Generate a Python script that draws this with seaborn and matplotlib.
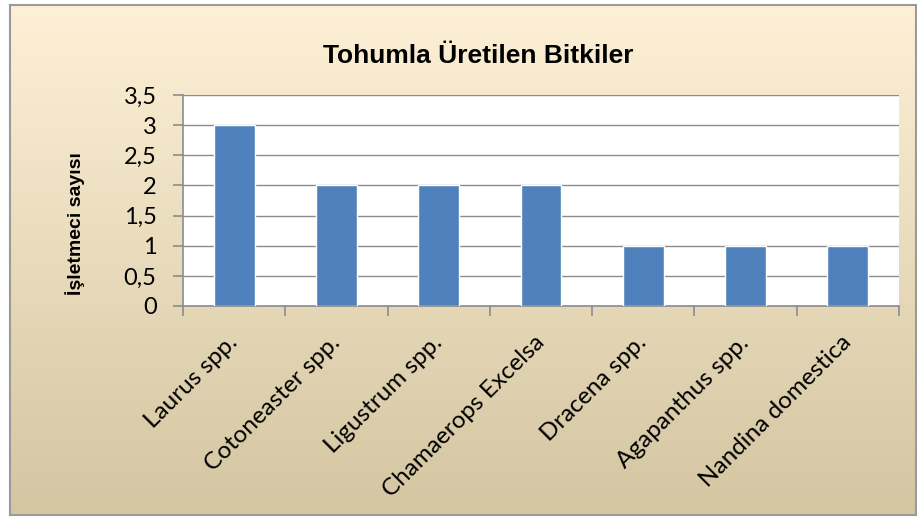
import numpy as np
import pandas as pd
import matplotlib
matplotlib.use("Agg")
import matplotlib.pyplot as plt
from matplotlib.ticker import FuncFormatter, FixedLocator
import matplotlib.transforms as mtransforms
import seaborn as sns

# ==========================================
# DATA
# ==========================================
TITLE = "Tohumla Üretilen Bitkiler"
Y_LABEL = "İşletmeci sayısı"
plants = [
    "Laurus spp.",
    "Cotoneaster spp.",
    "Ligustrum spp.",
    "Chamaerops Excelsa",
    "Dracena spp.",
    "Agapanthus spp.",
    "Nandina domestica",
]
counts = [3, 2, 2, 2, 1, 1, 1]

BAR_COLOR = "#4F81BD"
GRID_COLOR = "#8C8C8C"
BG_TOP = "#FDF0D6"
BG_BOTTOM = "#D4C6A1"

sns.set_theme(style="white")
plt.rcParams["font.family"] = ["Lato", "DejaVu Sans"]
plt.rcParams["text.color"] = "black"

W, H = 917, 517
fig = plt.figure(figsize=(W / 100, H / 100), dpi=100)
fig.patch.set_facecolor("white")

# ── gradient chart area with border ──────────────────────────────────────────
bx0, by0, bx1, by1 = 10, 5, 916, 515
bg = fig.add_axes([bx0 / W, 1 - by1 / H, (bx1 - bx0) / W, (by1 - by0) / H])
top = np.array(matplotlib.colors.to_rgb(BG_TOP))
bot = np.array(matplotlib.colors.to_rgb(BG_BOTTOM))
t = np.linspace(0, 1, 256)[:, None]
grad = top[None, :] * (1 - t) + bot[None, :] * t
bg.imshow(grad[:, None, :], aspect="auto", extent=[0, 1, 0, 1])
bg.set_xlim(0, 1)
bg.set_ylim(0, 1)
bg.set_xticks([])
bg.set_yticks([])
for s in bg.spines.values():
    s.set_color("#9A9A9A")
    s.set_linewidth(1.5)
bg.set_zorder(0)

# ── main plot ────────────────────────────────────────────────────────────────
L, R, T, B = 183, 899, 95, 306
ax = fig.add_axes([L / W, 1 - B / H, (R - L) / W, (B - T) / H])
ax.set_zorder(1)
ax.set_facecolor("white")

df = pd.DataFrame({"plant": plants, "count": counts})
sns.barplot(data=df, x="plant", y="count", color=BAR_COLOR, saturation=1,
            width=0.4, ax=ax, zorder=3)

ax.set_xlim(-0.5, len(plants) - 0.5)
ax.set_ylim(0, 3.5)
ax.set_yticks(np.arange(0, 3.51, 0.5))
ax.yaxis.set_major_formatter(FuncFormatter(
    lambda v, _: (f"{v:g}").replace(".", ",")))
ax.yaxis.grid(True, color=GRID_COLOR, linewidth=1.0, zorder=0)
ax.set_axisbelow(True)

for side in ["top", "right"]:
    ax.spines[side].set_visible(False)
for side in ["left", "bottom"]:
    ax.spines[side].set_color(GRID_COLOR)
    ax.spines[side].set_linewidth(1.2)

ax.tick_params(axis="y", which="major", length=7, width=1.2, color=GRID_COLOR,
               left=True, labelsize=17, pad=12, labelcolor="black")
ax.xaxis.set_minor_locator(FixedLocator(np.arange(-0.5, len(plants), 1.0)))
ax.tick_params(axis="x", which="minor", length=7, width=1.2, color=GRID_COLOR,
               bottom=True)
ax.tick_params(axis="x", which="major", length=0, labelsize=17.5, pad=24,
               labelcolor="black")
for lab in ax.get_xticklabels():
    lab.set_rotation(45)
    lab.set_ha("right")
    lab.set_va("center")
    lab.set_rotation_mode("anchor")

ax.set_xlabel("")
ax.set_ylabel("")

narrow = ["Liberation Sans", "DejaVu Sans"]
fig.text(478 / W, 1 - 56 / H, TITLE, ha="center", va="center",
         fontsize=19, fontweight="bold", family=narrow, color="black")
fig.text(75 / W, 1 - 224 / H, Y_LABEL, ha="center", va="center",
         rotation=90, fontsize=14, fontweight="bold", family=narrow,
         color="black")

fig.savefig("out.png", dpi=100)
